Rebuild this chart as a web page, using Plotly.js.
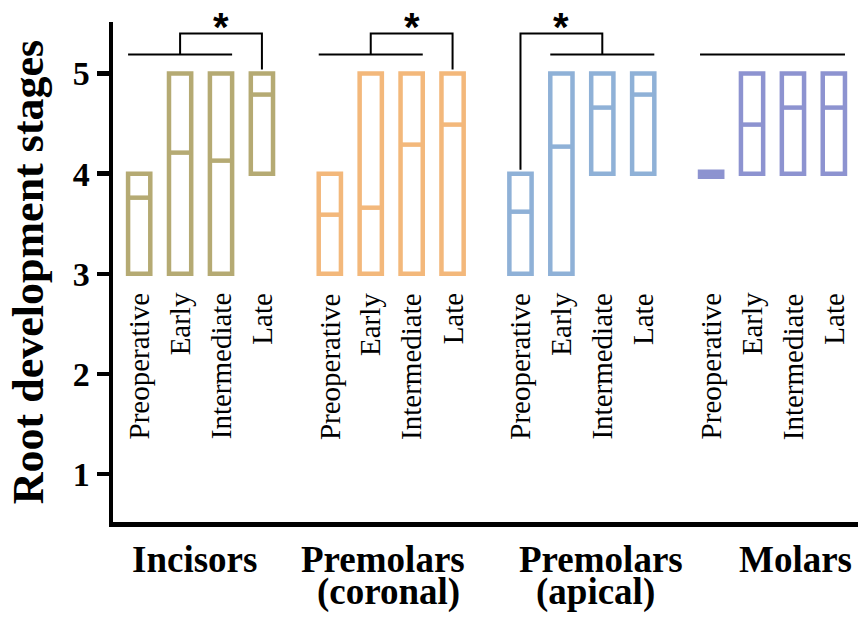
<!DOCTYPE html>
<html>
<head>
<meta charset="utf-8">
<script src="https://cdn.plot.ly/plotly-3.0.1.min.js"></script>
<style>html,body{margin:0;padding:0;background:#fff;}#chart{width:858px;height:628px;}</style>
</head>
<body>
<div id="chart"></div>
<script>
// ---- data ----
const groupNames = ['Incisors', 'Premolars<br>(coronal)', 'Premolars<br>(apical)', 'Molars'];
const stageNames = ['Preoperative', 'Early', 'Intermediate', 'Late'];

const incisorsMin = [3, 3, 3, 4];
const incisorsMax = [4, 5, 5, 5];
const incisorsMedian = [3.76, 4.21, 4.13, 4.79];

const coronalMin = [3, 3, 3, 3];
const coronalMax = [4, 5, 5, 5];
const coronalMedian = [3.59, 3.66, 4.29, 4.49];

const apicalMin = [3, 3, 4, 4];
const apicalMax = [4, 5, 5, 5];
const apicalMedian = [3.62, 4.27, 4.66, 4.79];

const molarsMin = [3.97, 4, 4, 4];
const molarsMax = [4.02, 5, 5, 5];
const molarsMedian = [4.0, 4.49, 4.66, 4.66];

// significance: span of bars joined by the line, target bar of the bracket (-1 = none)
const sigSpanFrom = [0, 0, 1, 0];
const sigSpanTo = [2, 2, 3, 3];
const sigTarget = [3, 3, 0, -1];
const sigLabel = ['*', '*', '*', ''];

// ---- styling ----
const colors = ['#B5AA73', '#F3B87B', '#8FB1D7', '#8D93D0'];
const groupStep = 4.66;
const barW = 0.543;
const strokeW = 4.5;
const yRange = [0.52, 5.515];
const serif = "'Liberation Serif', 'Times New Roman', serif";

const mins = [incisorsMin, coronalMin, apicalMin, molarsMin];
const maxs = [incisorsMax, coronalMax, apicalMax, molarsMax];
const meds = [incisorsMedian, coronalMedian, apicalMedian, molarsMedian];

const pos = (g, i) => g * groupStep + i;

const traces = [];
const annotations = [];

mins.forEach((mn, g) => {
  const xs = mn.map((_, i) => pos(g, i));
  traces.push({
    type: 'bar', x: xs, base: mn, y: mn.map((v, i) => maxs[g][i] - v),
    width: barW, cliponaxis: false,
    marker: {color: 'rgba(255,255,255,0)', line: {color: colors[g], width: strokeW}},
    hoverinfo: 'skip', showlegend: false
  });
  const lx = [], ly = [];
  meds[g].forEach((m, i) => {
    lx.push(xs[i] - barW / 2, xs[i] + barW / 2, null);
    ly.push(m, m, null);
  });
  traces.push({
    type: 'scatter', mode: 'lines', x: lx, y: ly,
    line: {color: colors[g], width: strokeW}, hoverinfo: 'skip', showlegend: false
  });
  // stage labels inside plot
  stageNames.forEach((s, i) => {
    annotations.push({
      x: xs[i], y: 2.83, xref: 'x', yref: 'y', text: s, showarrow: false,
      textangle: -90, xanchor: 'center', yanchor: 'top',
      font: {family: serif, size: 29, color: '#000'}
    });
  });
});

// significance brackets
const lineY = 5.19, topY = 5.4, dropGap = 0.04, starY = 5.555;
sigSpanFrom.forEach((f, g) => {
  const x0 = pos(g, f) - barW / 2, x1 = pos(g, sigSpanTo[g]) + barW / 2;
  const bx = [x0, x1, null], by = [lineY, lineY, null];
  const t = sigTarget[g];
  if (t >= 0) {
    const mid = (x0 + x1) / 2;
    const tx = pos(g, t);
    bx.push(mid, mid, tx, tx);
    by.push(lineY, topY, topY, maxs[g][t] + dropGap);
    annotations.push({
      x: (mid + tx) / 2, y: (starY - yRange[0]) / (yRange[1] - yRange[0]),
      xref: 'x', yref: 'paper', text: sigLabel[g], showarrow: false,
      xanchor: 'center', yanchor: 'middle', yshift: -9,
      font: {family: "'Liberation Sans', Arial, sans-serif", size: 40, color: '#000', weight: 'bold'}
    });
  }
  traces.push({
    type: 'scatter', mode: 'lines', x: bx, y: by, cliponaxis: false,
    line: {color: '#000', width: 2}, hoverinfo: 'skip', showlegend: false
  });
});

// group labels below axis
const groupLabelX = [1.36, 5.95, 11.3, 16.05];
groupNames.forEach((name, g) => {
  const lines = name.split('<br>');
  lines.forEach((ln, k) => {
    annotations.push({
      x: groupLabelX[g] + (k === 1 ? 0.15 * (g === 1 ? 1 : -1) : 0), y: -0.075 - k * 0.064,
      xref: 'x', yref: 'paper', text: ln, showarrow: false,
      xanchor: 'center', yanchor: 'middle',
      font: {family: serif, size: 37, color: '#000', weight: 'bold'}
    });
  });
});

const layout = {
  width: 858, height: 628,
  margin: {l: 113, r: 0, t: 22, b: 106, pad: 0},
  paper_bgcolor: '#fff', plot_bgcolor: '#fff',
  showlegend: false, barmode: 'overlay',
  xaxis: {
    range: [-0.64, 17.57], showline: true, linewidth: strokeW, linecolor: '#000',
    showgrid: false, zeroline: false, showticklabels: false, ticks: ''
  },
  yaxis: {
    range: yRange, showline: true, linewidth: strokeW, linecolor: '#000',
    showgrid: false, zeroline: false, tickvals: [1, 2, 3, 4, 5],
    ticks: 'outside', ticklen: 12, tickwidth: strokeW, tickcolor: '#000',
    tickfont: {family: serif, size: 34, color: '#000', weight: 'bold'},
    title: {text: 'Root development stages', standoff: 17,
            font: {family: serif, size: 44, color: '#000', weight: 'bold'}}
  },
  annotations: annotations
};

Plotly.newPlot('chart', traces, layout, {displayModeBar: false, staticPlot: true});
</script>
</body>
</html>
